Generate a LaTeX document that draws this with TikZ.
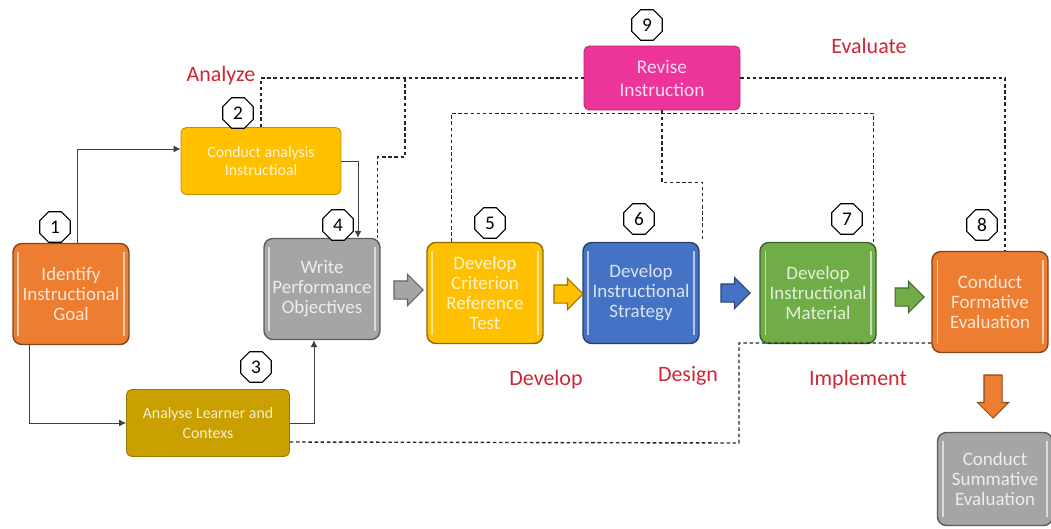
\documentclass[tikz,border=0pt]{standalone}
\usepackage{fontspec}
\setmainfont{Carlito}
\usetikzlibrary{positioning,arrows.meta,shapes.geometric,shapes.arrows}
\definecolor{idorange}{RGB}{237,125,49}
\definecolor{idyellow}{RGB}{255,192,0}
\definecolor{idgold}{RGB}{201,160,0}
\definecolor{idgray}{RGB}{165,165,165}
\definecolor{idblue}{RGB}{68,114,196}
\definecolor{idgreen}{RGB}{112,173,71}
\definecolor{idpink}{RGB}{236,52,154}
\definecolor{idred}{RGB}{206,38,50}

\begin{document}
\begin{tikzpicture}[x=0.02cm,y=-0.02cm,
  box/.style={draw=#1!55!black,fill=#1,rounded corners=5pt,line width=0.8pt,
    text=white!80!#1,align=center,minimum width=2.32cm,minimum height=2.02cm,
    font=\fontsize{10.8}{11.4}\selectfont,
    path picture={
      \draw[white!60!#1,line width=0.9pt]
        ([xshift=3pt,yshift=-5pt]path picture bounding box.north west) --
        ([xshift=3pt,yshift=5pt]path picture bounding box.south west);
      \draw[white!60!#1,line width=0.9pt]
        ([xshift=-3pt,yshift=-5pt]path picture bounding box.north east) --
        ([xshift=-3pt,yshift=5pt]path picture bounding box.south east);}},
  flatbox/.style={draw=#1!75!black,fill=#1,rounded corners=3pt,line width=0.5pt,
    text=white!82!#1,align=center,minimum width=3.2cm,minimum height=1.34cm},
  num/.style={regular polygon,regular polygon sides=8,draw,fill=white,
    line width=0.6pt,inner sep=0pt,minimum size=0.66cm,font=\fontsize{11}{11}\selectfont},
  flow/.style={single arrow,draw=#1!60!black,fill=#1,inner sep=0.17cm,
    minimum height=0.58cm,single arrow head extend=0.13cm,line width=0.6pt},
  phase/.style={text=idred,font=\fontsize{12.5}{14}\selectfont},
  link/.style={black!75,line width=0.5pt,-{Latex[length=4pt,width=4pt]}},
  dashlink/.style={black!85,line width=0.8pt,dash pattern=on 2pt off 1.5pt}]
\useasboundingbox (0,0) rectangle (1051,528);

% Boxes
\node[box=idorange] (goal) at (71,294) {Identify\\Instructional\\Goal};
\node[flatbox=idyellow,font=\fontsize{9}{10}\selectfont] (analysis) at (261,161) {Conduct analysis\\Instructioal};
\node[flatbox=idgold,minimum width=3.26cm,font=\fontsize{9}{11}\selectfont] (learner) at (208,423) {Analyse Learner and\\Contexs};
\node[box=idgray] (objectives) at (322,289) {Write\\Performance\\Objectives};
\node[box=idyellow] (test) at (485,293) {Develop\\Criterion\\Reference\\Test};
\node[box=idblue] (strategy) at (641,293) {Develop\\Instructional\\Strategy};
\node[box=idgreen] (material) at (818,293) {Develop\\Instructional\\Material};
\node[box=idorange] (formative) at (990,302) {Conduct\\Formative\\Evaluation};
\node[box=idgray,minimum height=1.86cm,minimum width=2.3cm] (summative) at (995,479) {Conduct\\Summative\\Evaluation};
\node[flatbox=idpink,minimum width=3.12cm,minimum height=1.28cm,font=\fontsize{11}{13}\selectfont] (revise) at (662,78) {Revise\\Instruction};

% Step numbers
\node[num] (n1) at (55,227) {1};
\node[num] (n2) at (238,113) {2};
\node[num] (n3) at (256,367) {3};
\node[num] (n4) at (338,225) {4};
\node[num] (n5) at (490,223) {5};
\node[num] (n6) at (639,219) {6};
\node[num] (n7) at (847,219) {7};
\node[num] (n8) at (982,225) {8};
\node[num] (n9) at (647,25) {9};

% Phases
\node[phase] (analyze) at (221,76) {Analyze};
\node[phase] (evaluate) at (869,46) {Evaluate};
\node[phase] (develop) at (546,380) {Develop};
\node[phase] (design) at (688,376) {Design};
\node[phase] (implement) at (858,380) {Implement};

% Block arrows along the main row
\node[flow=idgray] (a1) at (404,290) {};
\node[flow=idyellow] (a2) at (564,294) {};
\node[flow=idblue] (a3) at (731,293) {};
\node[flow=idgreen] (a4) at (905,297) {};
\node[flow=idorange,shape border rotate=270,minimum height=0.86cm] (a5) at (993,392) {};

% Solid links
\draw[link] ([xshift=0.12cm]goal.north) |- ([yshift=0.24cm]analysis.west);
\draw[link] (analysis.east) -| ([xshift=0.72cm]objectives.north);
\draw[link] ([xshift=-0.84cm]goal.south) |- (learner.west);
\draw[link] (learner.east) -| ([xshift=-0.16cm]objectives.south);

% Revision loops
\coordinate (tap) at (405,78);
\coordinate (turn) at (739,443);
\draw[dashlink] (analysis.north) |- (revise.west);
\draw[dashlink] (tap) -- ++(0,79) -| ([xshift=-0.06cm]objectives.north east);
\draw[dashlink] ([xshift=0.5cm]test.north west) |- ([yshift=-0.06cm]revise.south)
  -| ([xshift=-0.06cm]material.north east);
\draw[dashlink] (revise.south) -- ++(0,72) -| ([xshift=0.06cm]strategy.north east);
\draw[dashlink] (revise.east) -| ([xshift=0.3cm]formative.north);
\draw[dashlink] ([yshift=-0.38cm]learner.east) -- (turn) |- ([yshift=-0.82cm]formative.west);
\end{tikzpicture}
\end{document}
